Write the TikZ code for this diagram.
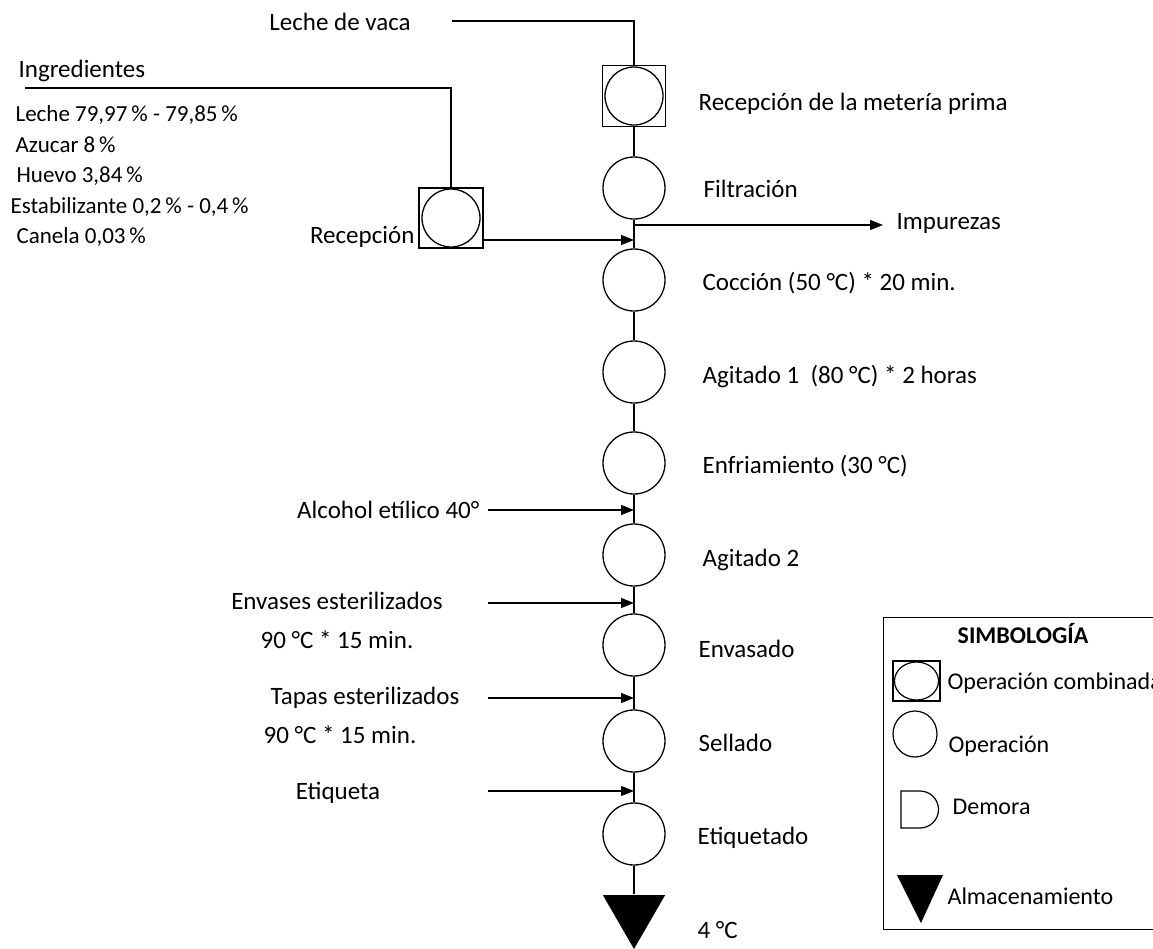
\documentclass[tikz,border=0pt]{standalone}
\usepackage{fontspec}
\setmainfont{Carlito}
\usetikzlibrary{arrows.meta,positioning,shapes.geometric}

\begin{document}
\begin{tikzpicture}[x=0.5pt, y=-0.5pt, line width=0.6pt,
  every node/.style={font=\fontsize{12.5}{15}\selectfont, inner sep=0pt},
  op/.style={circle, draw, line width=0.65pt, minimum size=31pt},
  comb/.style={rectangle, draw, minimum width=31.5pt, minimum height=30.5pt,
    path picture={\draw[line width=0.65pt] (path picture bounding box.center) circle (14.5pt);}},
  alm/.style={regular polygon, regular polygon sides=3, shape border rotate=180, fill=black, minimum size=36pt},
  arr/.style={-{Triangle[length=6.5pt,width=5pt]}},
  lbl/.style={anchor=base west},
  lst/.style={anchor=base west, font=\fontsize{11.5}{14}\selectfont},
  leglbl/.style={anchor=base west, font=\fontsize{12}{14}\selectfont}]
\useasboundingbox (0,0) rectangle (1153,949);
\clip (0,0) rectangle (1153,949);
% Process line
\node[comb] (rm) at (634,96) {};
\node[op] (fil) at (634,188) {};
\node[op] (coc) at (634,280) {};
\node[op] (ag1) at (634,372) {};
\node[op] (enf) at (634,463) {};
\node[op] (ag2) at (634,555) {};
\node[op] (env) at (634,645) {};
\node[op] (sel) at (634,741) {};
\node[op] (etq) at (634,834) {};
\node[alm] (alm) at (634,913) {};
\draw (rm) -- (fil) -- (coc) -- (ag1) -- (enf) -- (ag2) -- (env) -- (sel) -- (etq) -- (alm);
% Step labels
\node[lbl] (t-rm) at (698,110) {Recepción de la metería prima};
\node[lbl] (t-fil) at (703,197) {Filtración};
\node[lbl] (t-coc) at (702,290) {Cocción (50 °C) * 20 min.};
\node[lbl] (t-ag1) at (702,383) {Agitado 1 \ (80 °C) * 2 horas};
\node[lbl] (t-enf) at (702,473) {Enfriamiento (30 °C)};
\node[lbl] (t-ag2) at (702,566) {Agitado 2};
\node[lbl] (t-env) at (698,657) {Envasado};
\node[lbl] (t-sel) at (698,751) {Sellado};
\node[lbl] (t-etq) at (697,844) {Etiquetado};
\node[lbl] (t-alm) at (697,938) {4 °C};
% Leche de vaca
\node[anchor=base] (lv) at (340,30) {Leche de vaca};
\coordinate (lv-e) at (452,21);
\draw (lv-e) -| (rm.north);
% Ingredientes
\node[lbl] (ing) at (18,77) {Ingredientes};
\coordinate (ing-w) at (25,88);
\node[comb, minimum width=32pt, minimum height=30pt] (rc) at (451,218) {};
\draw (ing-w) -| (rc.north);
\node[lst] (ing1) at (15,121) {Leche 79,97\,\% - 79,85\,\%};
\node[lst] (ing2) at (15,152) {Azucar 8\,\%};
\node[lst] (ing3) at (16,182) {Huevo 3,84\,\%};
\node[lst] (ing4) at (10,213) {Estabilizante 0,2\,\% - 0,4\,\%};
\node[lst] (ing5) at (16,243) {Canela 0,03\,\%};
\node[anchor=base east] (t-rc) at (415,243) {Recepción};
\coordinate (j1) at (634,240);
\draw[arr] (rc.east |- j1) -- (j1);
% Impurezas
\coordinate (j2) at (634,225);
\coordinate (imp-e) at (883,225);
\node[lbl] (imp) at (896,229) {Impurezas};
\draw[arr] (j2) -- (imp-e);
% Inputs on the left
\node[anchor=base east] (alc) at (480,518) {Alcohol etílico 40°};
\coordinate (alc-s) at (488,510);
\draw[arr] (alc-s) -- (alc-s -| ag2);
\node[anchor=base] (envs) at (337,609) {Envases esterilizados};
\node[anchor=base] (envt) at (337,648) {90 °C * 15 min.};
\coordinate (envs-s) at (488,603);
\draw[arr] (envs-s) -- (envs-s -| env);
\node[anchor=base] (taps) at (365,704) {Tapas esterilizados};
\node[anchor=base] (tapt) at (340,743) {90 °C * 15 min.};
\coordinate (taps-s) at (488,698);
\draw[arr] (taps-s) -- (taps-s -| sel);
\node[anchor=base] (eti) at (338,799) {Etiqueta};
\coordinate (eti-s) at (488,791);
\draw[arr] (eti-s) -- (eti-s -| etq);
% Simbologia
\node[draw, anchor=north west, minimum width=145pt, minimum height=156pt] (leg) at (883,617) {};
\node[font=\fontsize{12}{14}\selectfont\bfseries, anchor=base] (leg-t) at (1023,643) {SIMBOLOGÍA};
\node[draw, minimum width=23.5pt, minimum height=20pt] (leg-c) at (916.5,681) {};
\node[draw, ellipse, minimum width=22pt, minimum height=19pt] (leg-ce) at (916.5,681) {};
\node[draw, ellipse, minimum width=22pt, minimum height=23pt] (leg-o) at (915,734) {};
\draw (901,791) -- (920,791) arc[start angle=-90, end angle=90, radius=18.5] -- (901,828) -- cycle;
\fill (897,875) -- (943,875) -- (921,923) -- cycle;
\node[leglbl] (t-leg-c) at (947,689) {Operación combinada};
\node[leglbl] (t-leg-o) at (948,752) {Operación};
\node[leglbl] (t-leg-d) at (952,814) {Demora};
\node[leglbl] (t-leg-a) at (947,904) {Almacenamiento};
\end{tikzpicture}
\end{document}
